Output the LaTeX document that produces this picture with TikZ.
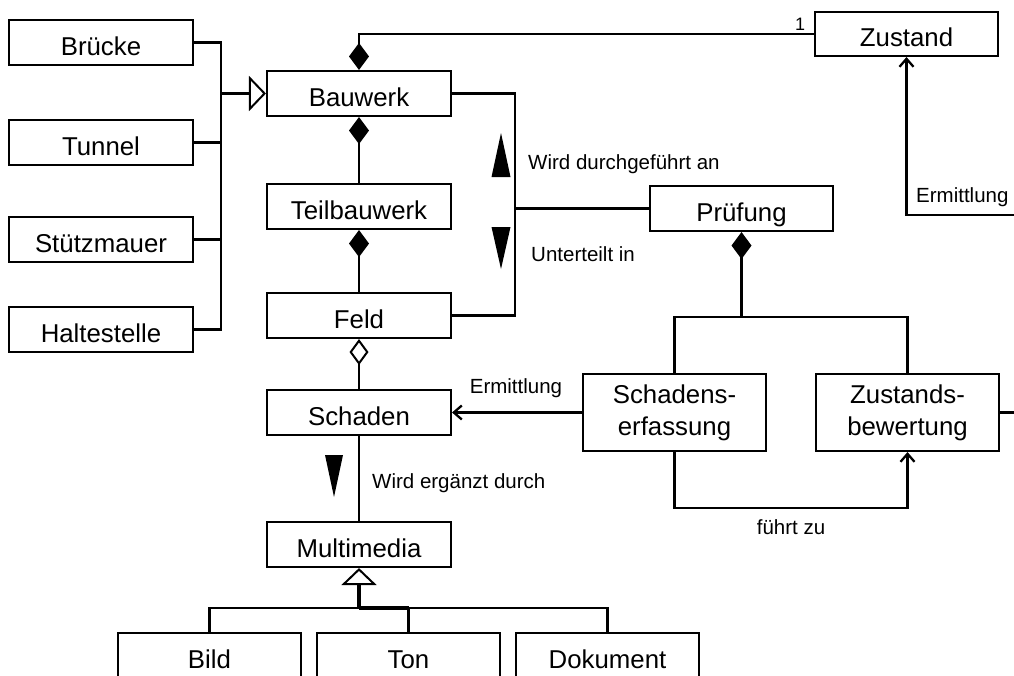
\documentclass[tikz,border=0pt]{standalone}
\usepackage{fontspec}
\setmainfont{Liberation Sans}
\usetikzlibrary{arrows.meta}
\begin{document}
\begin{tikzpicture}[x=1pt,y=-1pt,
  cls/.style={draw,line width=2.1pt,minimum width=184pt,minimum height=45pt,inner sep=0pt,
    font=\fontsize{25.8}{31}\selectfont,align=center,fill=white,text height=25pt,text depth=0pt},
  wide/.style={draw,line width=2.1pt,minimum width=183pt,minimum height=77pt,inner sep=0pt,
    font=\fontsize{25.8}{32}\selectfont,align=center,fill=white},
  conn/.style={line width=2.1pt},
  comp/.style={conn,{Diamond[length=27pt,width=20pt]}-},
  agg/.style={conn,{Diamond[open,length=26pt,width=19pt,line width=2pt]}-},
  gen/.style={line width=3.6pt,-{Triangle[open,length=17pt,width=35pt,line width=2pt]}},
  nav/.style={line width=2.7pt,-{Straight Barb[length=8pt,width=14pt,line width=2.3pt]}},
  lbl/.style={font=\fontsize{20.5}{24}\selectfont,inner sep=0pt},
  dir/.style={fill=black}]
\fill[white] (0,0) rectangle (1014,675);
\useasboundingbox (0,0) rectangle (1014,675);

% classes
\node[cls] (bruecke) at (101,42.5) {Brücke};
\node[cls] (tunnel) at (101,142.5) {Tunnel};
\node[cls] (stuetz) at (101,239.5) {Stützmauer};
\node[cls] (halte) at (101,329.5) {Haltestelle};
\node[cls] (bauwerk) at (359,93.5) {Bauwerk};
\node[cls] (teil) at (359,206.5) {Teilbauwerk};
\node[cls] (feld) at (359,315.5) {Feld};
\node[cls] (schaden) at (359,412.5) {Schaden};
\node[cls] (multi) at (359,544.5) {Multimedia};
\node[cls,minimum width=183pt,minimum height=44pt] (zustand) at (906.5,34) {Zustand};
\node[cls,minimum width=183pt] (pruefung) at (741.5,208.5) {Prüfung};
\node[wide] (serf) at (674.5,412.5) {Schadens-\\erfassung};
\node[wide] (zbew) at (907.5,412.5) {Zustands-\\bewertung};
\node[cls,minimum width=183pt] (bild) at (209.5,655.5) {Bild};
\node[cls,minimum width=183pt] (ton) at (408.5,655.5) {Ton};
\node[cls,minimum width=183pt] (dok) at (607.5,655.5) {Dokument};

% generalisation to Bauwerk
\coordinate (lb) at (221,93.5);
\draw[conn] (bruecke.east) -| (lb);
\draw[conn] (tunnel.east) -| (lb);
\draw[conn] (stuetz.east) -| (lb);
\draw[conn] (halte.east) -| (lb);
\draw[gen] (lb) -- (bauwerk.west);

% compositions
\draw[comp] (bauwerk.north) |- (zustand.west);
\node[font=\fontsize{18}{20}\selectfont,inner sep=0pt] (one) at (800,24) {1};
\draw[comp] (bauwerk.south) -- (teil.north);
\draw[comp] (teil.south) -- (feld.north);
\draw[agg] (feld.south) -- (schaden.north);

% Bauwerk / Feld -- Pruefung
\coordinate (vb) at (515,208.5);
\draw[conn] (bauwerk.east) -| (vb) |- (feld.east);
\draw[conn] (vb) -- (pruefung.west);
\fill[dir] (501,133) -- (510.5,177) -- (491.5,177) -- cycle;
\fill[dir] (491.5,227) -- (510.5,227) -- (501,269) -- cycle;
\node[lbl,anchor=west] (lwd) at (528,164) {Wird durchgeführt an};
\node[lbl,anchor=west] (lut) at (531,254) {Unterteilt in};

% Pruefung composition
\coordinate (pj) at (741.5,317);
\draw[comp] (pruefung.south) -- (pj);
\draw[conn] (serf.north) |- (pj) -| (zbew.north);

% Ermittlung Schaden
\draw[nav] (serf.west) -- (schaden.east);
\node[lbl] (lerm) at (516,388) {Ermittlung};

% Schaden -- Multimedia
\draw[conn] (schaden.south) -- (multi.north);
\fill[dir] (325,455) -- (343,455) -- (334,497) -- cycle;
\node[lbl,anchor=west] (lwe) at (372,483) {Wird ergänzt durch};

% Multimedia generalisation
\coordinate (mb) at (359,608);
\coordinate (tb) at (408.5,608);
\draw[conn] (bild.north) |- (mb);
\draw[conn] (dok.north) |- (mb);
\draw[conn] (ton.north) -- (tb);
\draw[line width=3.4pt] (mb) -- (tb);
\draw[gen] (mb) -- (multi.south);

% fuehrt zu
\coordinate (fz) at (674.5,508);
\draw[nav] (serf.south) -- (fz) -| (zbew.south);
\node[lbl] (lfz) at (791,527) {führt zu};

% Zustandsbewertung -> Zustand
\coordinate (zr) at (1030,215);
\coordinate (zc) at (906.5,215);
\draw[nav] (zbew.east) -| (zr) -- (zc) -- (zustand.south);
\node[lbl,anchor=west] (lez) at (916,197) {Ermittlung};
\end{tikzpicture}
\end{document}
